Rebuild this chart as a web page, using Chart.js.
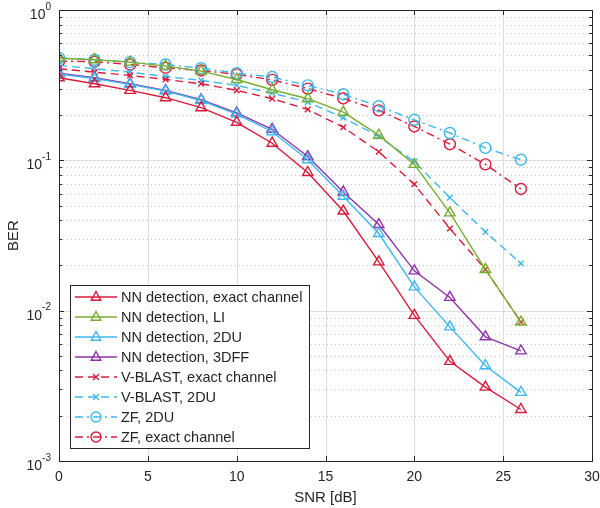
<!DOCTYPE html>
<html>
<head>
<meta charset="utf-8">
<script src="https://cdn.jsdelivr.net/npm/chart.js@4/dist/chart.umd.min.js"></script>
<style>
  html, body { margin: 0; padding: 0; background: #fff; }
  #wrap { width: 600px; height: 508px; position: relative; }
</style>
</head>
<body>
<div id="wrap"><canvas id="ber-chart"></canvas></div>
<script>
// SNR points (dB)
const snr = [0, 2, 4, 6, 8, 10, 12, 14, 16, 18, 20, 22, 24, 26];
// BER per scheme
const nnExact = [0.354, 0.323, 0.292, 0.261, 0.224, 0.179, 0.130, 0.083, 0.046, 0.0211, 0.0093, 0.0046, 0.0031, 0.0022];
const nnLI = [0.478, 0.467, 0.450, 0.423, 0.392, 0.345, 0.295, 0.257, 0.209, 0.147, 0.094, 0.0447, 0.0188, 0.0084];
const nn2DU = [0.375, 0.350, 0.320, 0.289, 0.250, 0.203, 0.155, 0.101, 0.0577, 0.0326, 0.0144, 0.0078, 0.0043, 0.00286];
const nn3DFF = [0.380, 0.354, 0.323, 0.292, 0.253, 0.207, 0.161, 0.106, 0.0616, 0.0374, 0.0184, 0.01225, 0.0067, 0.0054];
const vbExact = [0.407, 0.386, 0.367, 0.345, 0.323, 0.292, 0.257, 0.218, 0.166, 0.114, 0.0693, 0.0352, 0.0188, 0.0084];
const vb2DU = [0.428, 0.407, 0.386, 0.361, 0.340, 0.315, 0.280, 0.244, 0.192, 0.144, 0.098, 0.0565, 0.0334, 0.0206];
const zf2DU = [0.481, 0.467, 0.450, 0.434, 0.410, 0.380, 0.358, 0.315, 0.275, 0.229, 0.186, 0.152, 0.121, 0.101];
const zfExact = [0.457, 0.453, 0.434, 0.413, 0.396, 0.373, 0.343, 0.300, 0.258, 0.215, 0.168, 0.128, 0.094, 0.0645];

const xTicks = [0, 5, 10, 15, 20, 25, 30];
const yDecades = [-3, -2, -1, 0];

const labels = ['NN detection, exact channel', 'NN detection, LI', 'NN detection, 2DU', 'NN detection, 3DFF',
  'V-BLAST, exact channel', 'V-BLAST, 2DU', 'ZF, 2DU', 'ZF, exact channel'];

const RED = '#D81B3A', GREEN = '#77AC30', BLUE = '#3DB8EE', PURPLE = '#8E33A8';
const TXT = '#262626';
const FONT = 'Arial, "Liberation Sans", Helvetica, sans-serif';
const DASH = [8, 5], DASHDOT = [8, 4, 2, 4];

function ds(label, data, color, style, dash, radius) {
  return {
    label: label,
    data: data.map((v, i) => ({ x: snr[i], y: v })),
    borderColor: color,
    backgroundColor: 'rgba(0,0,0,0)',
    borderWidth: 1.4,
    borderDash: dash,
    pointStyle: style,
    pointRadius: radius,
    pointBorderWidth: 1.4,
    pointBorderColor: color,
    pointBackgroundColor: 'rgba(0,0,0,0)',
    tension: 0
  };
}

const datasets = [
  ds(labels[0], nnExact, RED, 'triangle', [], 6),
  ds(labels[1], nnLI, GREEN, 'triangle', [], 6),
  ds(labels[2], nn2DU, BLUE, 'triangle', [], 6),
  ds(labels[3], nn3DFF, PURPLE, 'triangle', [], 6),
  ds(labels[4], vbExact, RED, 'crossRot', DASH, 4),
  ds(labels[5], vb2DU, BLUE, 'crossRot', DASH, 4),
  ds(labels[6], zf2DU, BLUE, 'circle', DASHDOT, 5.5),
  ds(labels[7], zfExact, RED, 'circle', DASHDOT, 5.5)
];

//Grilla, ticks hacia adentro y caja al estilo MATLAB
const gridPlugin = {
  id: 'gridBox',
  beforeDatasetsDraw(chart) {
    const { ctx, chartArea: a, scales: { x, y } } = chart;
    ctx.save();
    ctx.lineWidth = 1;
    // minor dotted
    ctx.strokeStyle = '#c4c4c4';
    ctx.setLineDash([1, 3]);
    for (const d of yDecades) {
      for (let m = 2; m <= 9; m++) {
        const v = m * Math.pow(10, d);
        if (v > 1) continue;
        const py = Math.round(y.getPixelForValue(v)) + 0.5;
        ctx.beginPath(); ctx.moveTo(a.left, py); ctx.lineTo(a.right, py); ctx.stroke();
      }
    }
    // major solid
    ctx.setLineDash([]);
    ctx.strokeStyle = '#dedede';
    for (const d of yDecades) {
      const py = Math.round(y.getPixelForValue(Math.pow(10, d))) + 0.5;
      ctx.beginPath(); ctx.moveTo(a.left, py); ctx.lineTo(a.right, py); ctx.stroke();
    }
    for (const t of xTicks) {
      const px = Math.round(x.getPixelForValue(t)) + 0.5;
      ctx.beginPath(); ctx.moveTo(px, a.top); ctx.lineTo(px, a.bottom); ctx.stroke();
    }
    ctx.restore();
  },
  afterDatasetsDraw(chart) {
    const { ctx, chartArea: a, scales: { x, y } } = chart;
    ctx.save();
    ctx.strokeStyle = TXT;
    ctx.lineWidth = 1;
    ctx.setLineDash([]);
    // ticks inward
    ctx.beginPath();
    for (const t of xTicks) {
      const px = Math.round(x.getPixelForValue(t)) + 0.5;
      ctx.moveTo(px, a.bottom); ctx.lineTo(px, a.bottom - 5);
      ctx.moveTo(px, a.top); ctx.lineTo(px, a.top + 5);
    }
    for (const d of yDecades) {
      for (let m = 1; m <= 9; m++) {
        const v = m * Math.pow(10, d);
        if (v > 1) continue;
        const len = m === 1 ? 5 : 3;
        const py = Math.round(y.getPixelForValue(v)) + 0.5;
        ctx.moveTo(a.left, py); ctx.lineTo(a.left + len, py);
        ctx.moveTo(a.right, py); ctx.lineTo(a.right - len, py);
      }
    }
    ctx.stroke();
    // box
    ctx.strokeRect(Math.round(a.left) + 0.5, Math.round(a.top) + 0.5,
      Math.round(a.right - a.left), Math.round(a.bottom - a.top));
    ctx.fillStyle = TXT;
    // x tick labels
    ctx.font = '14px ' + FONT;
    ctx.textAlign = 'center';
    ctx.textBaseline = 'middle';
    for (const t of xTicks) {
      ctx.fillText(String(t), x.getPixelForValue(t), a.bottom + 16);
    }
    // y tick labels 10^n
    ctx.textAlign = 'right';
    for (const d of yDecades) {
      const py = y.getPixelForValue(Math.pow(10, d));
      const exp = String(d);
      ctx.font = '10px ' + FONT;
      const ew = ctx.measureText(exp).width;
      const right = a.left - 8;
      ctx.fillText(exp, right, py - 3);
      ctx.font = '14px ' + FONT;
      ctx.fillText('10', right - ew, py + 5);
    }
    ctx.restore();
  }
};

function drawMarker(ctx, style, cx, cy, r) {
  ctx.beginPath();
  if (style === 'triangle') {
    ctx.moveTo(cx, cy - r);
    ctx.lineTo(cx + r * 0.866, cy + r * 0.5 + 0.5);
    ctx.lineTo(cx - r * 0.866, cy + r * 0.5 + 0.5);
    ctx.closePath();
  } else if (style === 'circle') {
    ctx.arc(cx, cy, r, 0, Math.PI * 2);
  } else {
    const k = r * 0.75;
    ctx.moveTo(cx - k, cy - k); ctx.lineTo(cx + k, cy + k);
    ctx.moveTo(cx + k, cy - k); ctx.lineTo(cx - k, cy + k);
  }
  ctx.stroke();
}

//Leyenda dentro del area de grafico
const legendPlugin = {
  id: 'boxLegend',
  afterDraw(chart) {
    const ctx = chart.ctx;
    const bx = 70.5, by = 285.5, bw = 239, bh = 163;
    ctx.save();
    ctx.fillStyle = '#fff';
    ctx.fillRect(bx, by, bw, bh);
    ctx.strokeStyle = TXT;
    ctx.lineWidth = 1;
    ctx.setLineDash([]);
    ctx.strokeRect(bx, by, bw, bh);
    chart.data.datasets.forEach((d, i) => {
      const cy = 297 + i * 20;
      ctx.strokeStyle = d.borderColor;
      ctx.lineWidth = 1.4;
      ctx.setLineDash(d.borderDash);
      ctx.beginPath(); ctx.moveTo(75, cy); ctx.lineTo(117, cy); ctx.stroke();
      ctx.setLineDash([]);
      drawMarker(ctx, d.pointStyle, 96, cy, d.pointStyle === 'triangle' ? 5.5 : (d.pointStyle === 'circle' ? 5 : 4));
      ctx.fillStyle = TXT;
      ctx.font = '14.5px ' + FONT;
      ctx.textAlign = 'left';
      ctx.textBaseline = 'middle';
      ctx.fillText(d.label, 121, cy + 1);
    });
    ctx.restore();
  }
};

new Chart(document.getElementById('ber-chart').getContext('2d'), {
  type: 'line',
  data: { datasets: datasets },
  options: {
    responsive: true,
    maintainAspectRatio: false,
    animation: false,
    layout: { padding: { top: 10, right: 8, bottom: 0, left: 0 } },
    plugins: { legend: { display: false }, tooltip: { enabled: false } },
    scales: {
      x: {
        type: 'linear', min: 0, max: 30,
        afterFit: s => { s.height = 47; },
        grid: { display: false, drawTicks: false },
        border: { display: false },
        ticks: { display: false },
        title: { display: true, text: 'SNR [dB]', color: TXT, font: { family: FONT, size: 15 }, padding: { top: 0, bottom: 1 } }
      },
      y: {
        type: 'logarithmic', min: 0.001, max: 1,
        afterFit: s => { s.width = 59; },
        grid: { display: false, drawTicks: false },
        border: { display: false },
        ticks: { display: false },
        title: { display: true, text: 'BER', color: TXT, font: { family: FONT, size: 15 }, padding: { top: 5, bottom: 0 } }
      }
    }
  },
  plugins: [gridPlugin, legendPlugin]
});
</script>
</body>
</html>
